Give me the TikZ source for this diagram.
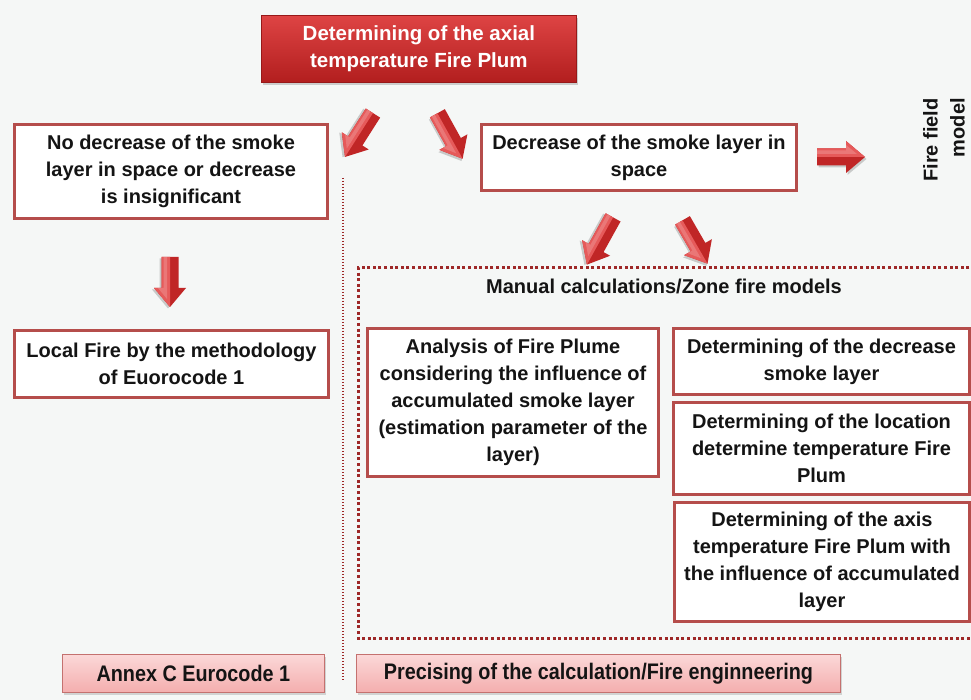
\documentclass[tikz,border=0pt]{standalone}
\usepackage{fontspec}
\setmainfont{Liberation Sans}
\newfontfamily\narrowsans[FakeStretch=0.88]{Liberation Sans}
\usetikzlibrary{shadows}

\definecolor{bg}{HTML}{F5F7F6}
\definecolor{frame}{HTML}{B54D4B}
\definecolor{dotred}{HTML}{9E2828}
\definecolor{ink}{HTML}{141414}
\definecolor{redtop}{HTML}{DE4444}
\definecolor{redbot}{HTML}{B21E1E}
\definecolor{pinktop}{HTML}{FBD8D8}
\definecolor{pinkbot}{HTML}{F4AEAE}
\definecolor{arrdark}{HTML}{C02626}
\definecolor{arrlight}{HTML}{E65A5A}

% block arrow: centre x, centre y, direction angle, total length, lit side (+1/-1)
\newcommand\redarrow[5]{%
  \begin{scope}[shift={(#1,#2)}, rotate=#3]
    \fill[black, opacity=0.18, shift={(1.5,2)}]
      (-#4/2,-8.5) -- (#4/2-19,-8.5) -- (#4/2-19,-16) -- (#4/2,0)
      -- (#4/2-19,16) -- (#4/2-19,8.5) -- (-#4/2,8.5) -- cycle;
    \fill[arrdark]
      (-#4/2,-8.5) -- (#4/2-19,-8.5) -- (#4/2-19,-16) -- (#4/2,0)
      -- (#4/2-19,16) -- (#4/2-19,8.5) -- (-#4/2,8.5) -- cycle;
    \fill[arrlight]
      (-#4/2,0) -- (#4/2,0) -- (#4/2-19,#5*16) -- (#4/2-19,#5*8.5)
      -- (-#4/2,#5*8.5) -- cycle;
    \fill[white, opacity=0.18]
      (-#4/2,#5*3) -- (#4/2-8,#5*3) -- (#4/2-19,#5*12) -- (#4/2-19,#5*6.5)
      -- (-#4/2,#5*6.5) -- cycle;
  \end{scope}}

\begin{document}
\begin{tikzpicture}[x=1pt, y=-1pt,
  txt/.style={font=\bfseries\fontsize{20}{27}\selectfont, align=center, text=ink},
  panel/.style={txt, draw=frame, line width=3pt, fill=white, inner sep=0pt, anchor=north west},
  headbox/.style={font=\bfseries\fontsize{20.5}{27}\selectfont, align=center, text=white,
    top color=redtop, bottom color=redbot, draw=redbot!85!black, line width=0.8pt,
    inner sep=0pt, anchor=north west,
    drop shadow={opacity=0.35, shadow xshift=2pt, shadow yshift=-3pt}},
  footbox/.style={font=\narrowsans\bfseries\fontsize{22.5}{27}\selectfont, align=center, text=ink,
    top color=pinktop, bottom color=pinkbot, draw=frame!80, line width=0.8pt,
    inner sep=0pt, anchor=north west,
    drop shadow={opacity=0.3, shadow xshift=2pt, shadow yshift=-3pt}},
  sepline/.style={draw=dotred, line width=1.3pt, dash pattern=on 1.3pt off 1.7pt},
  zoneframe/.style={draw=dotred, line width=3pt, dash pattern=on 3pt off 2.6pt}
]
\useasboundingbox (0,0) rectangle (971,700);
\fill[bg] (0,0) rectangle (971,700);

% separator and zone-model frame
\draw[sepline] (343,178) -- (343,680);
\draw[zoneframe] (975,268) -- (358,268) -- (358,638) -- (975,638);

% heading
\node[headbox, minimum width=315, minimum height=67] (head) at (261,15)
  {Determining of the axial\\temperature Fire Plum};

% first level
\node[panel, minimum width=313, minimum height=94] (nodec) at (13,123)
  {No decrease of the smoke\\layer in space or decrease\\is insignificant};
\node[panel, minimum width=315, minimum height=66] (dec) at (480,123)
  {Decrease of the smoke layer in\\space};
\node[txt, rotate=90, align=right, inner sep=0pt] (field) at (944,140)
  {Fire field\\model};

% left branch
\node[panel, minimum width=314, minimum height=67] (local) at (13,329)
  {Local Fire by the methodology\\of Euorocode 1};

% zone models
\node[txt, inner sep=0pt] (zone) at (664,286) {Manual calculations/Zone fire models};
\node[panel, minimum width=291, minimum height=148] (anal) at (366,327)
  {Analysis of Fire Plume\\considering the influence of\\accumulated smoke layer\\(estimation parameter of the\\layer)};
\node[panel, minimum width=296, minimum height=66] (dsl) at (672,327)
  {Determining of the decrease\\smoke layer};
\node[panel, minimum width=296, minimum height=92] (loc) at (672,401)
  {Determining of the location\\determine temperature Fire\\Plum};
\node[panel, minimum width=295, minimum height=119] (axis) at (673,501)
  {Determining of the axis\\temperature Fire Plum with\\the influence of accumulated\\layer};

% footers
\node[footbox, minimum width=262, minimum height=38] (annex) at (62,654) {Annex C Eurocode 1};
\node[footbox, minimum width=484, minimum height=38] (prec) at (356,654)
  {Precising of the calculation/Fire enginneering};

% block arrows
\redarrow{359}{135}{237.5}{52}{1}
\redarrow{450}{136}{299}{52}{1}
\redarrow{841}{157}{0}{48}{-1}
\redarrow{600}{241}{241}{54}{1}
\redarrow{695}{242}{300}{50}{1}
\redarrow{170}{282}{270}{50}{1}
\end{tikzpicture}
\end{document}
